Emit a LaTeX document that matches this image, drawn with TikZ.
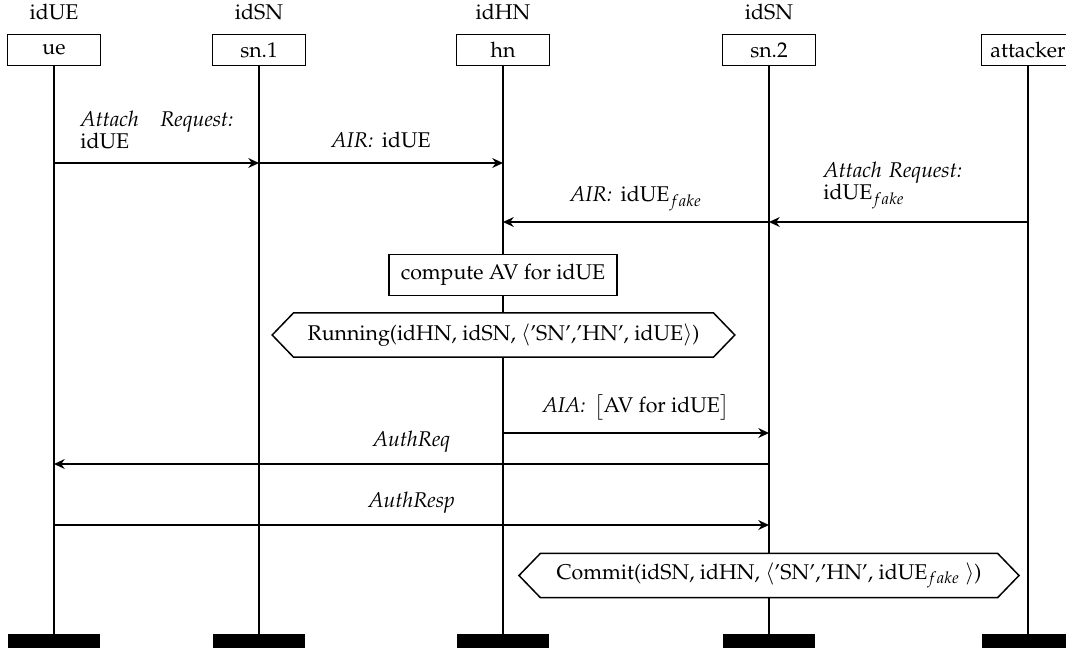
\documentclass[tikz,border=0pt]{standalone}
\usepackage[T1]{fontenc}
\usepackage{mathpazo}
\usetikzlibrary{arrows.meta,shapes.symbols}
\begin{document}
\begin{tikzpicture}[x=0.469pt,y=-0.469pt,
  inst/.style={draw,line width=0.7pt,minimum width=43.6pt,minimum height=14.5pt,inner sep=0pt,fill=white},
  endbar/.style={fill=black,draw=none,minimum width=43.6pt,minimum height=8pt,inner sep=0pt},
  life/.style={line width=0.9pt},
  msg/.style={line width=0.7pt,-{Stealth[length=5pt,width=4.6pt,inset=1.6pt]}},
  lbl/.style={inner sep=0pt},
  action/.style={draw,line width=0.7pt,fill=white,minimum width=107pt,minimum height=19.2pt,inner sep=0pt},
  cond/.style={signal,signal to=east and west,signal pointer angle=92,draw,line width=0.7pt,fill=white,minimum height=20.8pt,inner sep=0pt}
]
\useasboundingbox (0,0) rectangle (1066,647);

% instance heads
\node[inst] (ue)  at (54,50)   {ue};
\node[inst] (sn1) at (259,50)  {sn.1};
\node[inst] (hn)  at (503,50)  {hn};
\node[inst] (sn2) at (769,50)  {sn.2};
\node[inst] (att) at (1028,50) {attacker};

% identities above the heads
\node[lbl,anchor=base] (idue)  at (54,19)  {idUE};
\node[lbl,anchor=base] (idsn1) at (259,19) {idSN};
\node[lbl,anchor=base] (idhn)  at (503,19) {idHN};
\node[lbl,anchor=base] (idsn2) at (769,19) {idSN};

% instance ends
\node[endbar,anchor=north] (ueE)  at (54,634)   {};
\node[endbar,anchor=north] (sn1E) at (259,634)  {};
\node[endbar,anchor=north] (hnE)  at (503,634)  {};
\node[endbar,anchor=north] (sn2E) at (769,634)  {};
\node[endbar,anchor=north] (attE) at (1028,634) {};

% lifelines
\foreach \a/\b in {ue/ueE,sn1/sn1E,hn/hnE,sn2/sn2E,att/attE}
  \draw[life] (\a) -- (\b);

% attach requests
\draw[msg] (ue |- 0,163) -- (sn1 |- 0,163);
\node[lbl,anchor=base west,text width=71.8pt,align=left] (l1) at (80,126)
  {\textit{Attach}\hfill\textit{Request:}\\[-1.3pt]idUE};
\draw[msg] (sn1 |- 0,163) -- node[lbl,anchor=base,yshift=7.2pt] (l2) {\textit{AIR:}\hspace{4pt}idUE} (hn |- 0,163);

\draw[msg] (att |- 0,222) -- (sn2 |- 0,222);
\node[lbl,anchor=base west,text width=80pt,align=left] (l3) at (823,177)
  {\textit{Attach Request:}\\[-1.3pt]idUE$_{fake}$};
\draw[msg] (sn2 |- 0,222) -- node[lbl,anchor=base,yshift=9.4pt] (l4) {\textit{AIR:}\hspace{4pt}idUE$_{fake}$} (hn |- 0,222);

% home network action and condition
\node[action] (comp) at (503,275) {compute AV for idUE};
\node[cond,minimum width=217pt] (run) at (503.5,335)
  {Running(idHN, idSN, $\langle$'SN','HN', idUE$\rangle$)};

% authentication vector and challenge
\draw[msg] (hn |- 0,433) -- node[lbl,anchor=base,yshift=9.4pt] (l5) {\textit{AIA:}\hspace{4pt}$\bigl[$AV for idUE$\bigr]$} (sn2 |- 0,433);
\draw[msg] (sn2 |- 0,464) -- node[lbl,anchor=base,yshift=8.4pt] (l6) {\textit{AuthReq}} (ue |- 0,464);
\draw[msg] (ue |- 0,525) -- node[lbl,anchor=base,yshift=8.4pt] (l7) {\textit{AuthResp}} (sn2 |- 0,525);

% serving network commit
\node[cond,minimum width=234.5pt] (com) at (769,575.5)
  {Commit(idSN, idHN, $\langle$'SN','HN', idUE$_{fake}$ $\rangle$)};
\end{tikzpicture}
\end{document}
